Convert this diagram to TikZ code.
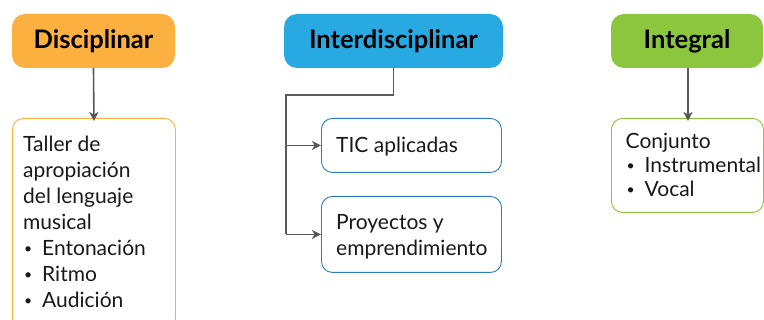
\documentclass[tikz,border=0pt]{standalone}
\usepackage{fontspec}
\setmainfont{Lato}
\usetikzlibrary{arrows.meta}
\definecolor{orangeC}{HTML}{FBB040}
\definecolor{blueC}{HTML}{29A9E1}
\definecolor{greenC}{HTML}{8CC63F}
\definecolor{blueB}{HTML}{2B7CC0}
\definecolor{lineC}{HTML}{595959}
\tikzset{
  head/.style={rounded corners=13pt, minimum height=54pt, inner sep=0pt, text height=19pt, text depth=4.4pt, font=\fontsize{25.5}{28}\selectfont\bfseries, text=black},
  cbox/.style={rounded corners=11pt, draw, line width=0.9pt, fill=white, inner sep=0pt},
  ctext/.style={anchor=north west, align=left, inner sep=0pt, font=\fontsize{21}{26}\selectfont, text=black!90},
  conn/.style={draw=lineC, line width=1.6pt, -{Stealth[length=9pt,width=9pt,inset=2.5pt]}},
  plain/.style={draw=lineC, line width=1.6pt}
}
\newcommand{\bul}{\makebox[19pt][l]{\hspace{1pt}\raisebox{1.8pt}{\fontsize{14}{14}\selectfont\textbullet}}}
\begin{document}
\begin{tikzpicture}[x=1pt,y=-1pt]
\useasboundingbox (0,0) rectangle (764,320);
% headers
\node[head, fill=orangeC, minimum width=163pt] (h1) at (93.5,41) {Disciplinar};
\node[head, fill=blueC, minimum width=219pt] (h2) at (393.5,41) {Interdisciplinar};
\node[head, fill=greenC, minimum width=152pt] (h3) at (687,41) {Integral};
% content boxes
\node[cbox, draw=orangeC, minimum width=163pt, minimum height=212pt, anchor=north west] (b1) at (12,118) {};
\node[cbox, draw=blueB, minimum width=180pt, minimum height=54pt, anchor=north west] (b2) at (321,118) {};
\node[cbox, draw=blueB, minimum width=180pt, minimum height=76pt, anchor=north west] (b3) at (321,196) {};
\node[cbox, draw=greenC, minimum width=152pt, minimum height=94pt, anchor=north west] (b4) at (611,118) {};
% texts
\node[ctext] (t1) at ([xshift=11pt,yshift=-18pt]b1.north west) {Taller de\\apropiación\\del lenguaje\\musical\\\bul Entonación\\\bul Ritmo\\\bul Audición};
\node[ctext, anchor=west] (t2) at ([xshift=15pt,yshift=-1pt]b2.west) {TIC aplicadas};
\node[ctext, font=\fontsize{21}{26.5}\selectfont] (t3) at ([xshift=15pt,yshift=-18pt]b3.north west) {Proyectos y\\emprendimiento};
\node[ctext, font=\fontsize{21}{24}\selectfont] (t4) at ([xshift=14.5pt,yshift=-15pt]b4.north west) {Conjunto\\\bul Instrumental\\\bul Vocal};
% connectors
\draw[conn] (h1.south) -- ([yshift=-3pt]b1.north);
\draw[conn] (h3.south -| 688,0) -- ([yshift=-3pt]b4.north -| 688,0);
\coordinate (j1) at (393.5,95);
\coordinate (j2) at (286,95);
\draw[plain] (h2.south) -- (j1) -- (j2) -- (j2 |- b3.west);
\draw[conn] (j2 |- b2.west) -- (b2.west);
\draw[conn] (j2 |- b3.west) -- (b3.west);
\end{tikzpicture}
\end{document}
